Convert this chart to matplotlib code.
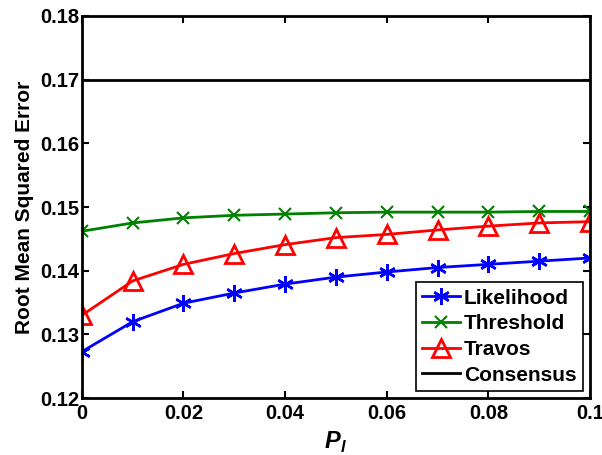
import matplotlib
matplotlib.use("Agg")
import matplotlib.pyplot as plt

plt.rcParams['font.family'] = ['Liberation Sans', 'DejaVu Sans']
plt.rcParams['font.weight'] = 'bold'
plt.rcParams['mathtext.fontset'] = 'custom'
plt.rcParams['mathtext.bfit'] = 'Liberation Sans:italic:bold'

# valores
p_l = [0.0, 0.01, 0.02, 0.03, 0.04, 0.05, 0.06, 0.07, 0.08, 0.09, 0.1]
likelihood = [0.1273, 0.1320, 0.1349, 0.1365, 0.1379, 0.1390, 0.1398, 0.1405, 0.1410, 0.1415, 0.1420]
threshold = [0.1462, 0.1475, 0.1483, 0.1487, 0.1489, 0.1491, 0.1492, 0.1492, 0.1492, 0.1493, 0.1493]
travos = [0.1330, 0.1384, 0.1410, 0.1427, 0.1441, 0.1452, 0.1457, 0.1464, 0.1470, 0.1475, 0.1477]
consensus = 0.17

x_ticks = [0, 0.02, 0.04, 0.06, 0.08, 0.1]
x_tick_labels = ['0', '0.02', '0.04', '0.06', '0.08', '0.1']
y_ticks = [0.12, 0.13, 0.14, 0.15, 0.16, 0.17, 0.18]

fig = plt.figure(figsize=(6.02, 4.55), dpi=100)
ax = fig.add_axes([0.136, 0.125, 0.844, 0.840])

asterisco = (6, 2, 0)
ax.plot(p_l, likelihood, color='blue', marker=asterisco, markersize=12, mew=1.8, lw=2, label='Likelihood')
ax.plot(p_l, threshold, color='#008000', marker='x', markersize=9, mew=1.5, lw=2, label='Threshold')
ax.plot(p_l, travos, color='red', marker='^', markersize=13, mfc='none', mew=2, lw=2, label='Travos')
ax.axhline(consensus, color='black', lw=2, label='Consensus')

ax.set_xlim(0, 0.1)
ax.set_ylim(0.12, 0.18)
ax.set_xticks(x_ticks)
ax.set_xticklabels(x_tick_labels)
ax.set_yticks(y_ticks)
ax.set_yticklabels(['%.2f' % v for v in y_ticks])
ax.tick_params(direction='in', top=True, right=True, labelsize=14.5, width=1.5, length=5)
ax.tick_params(axis='x', pad=4)
ax.tick_params(axis='y', pad=2)
for s in ax.spines.values():
    s.set_linewidth(2)

ax.set_xlabel(r'$\mathbfit{P}_{\mathbfit{l}}$', fontsize=17, labelpad=5)
ax.set_ylabel('Root Mean Squared Error', fontsize=15, fontweight='bold', labelpad=4)

leg = ax.legend(loc='lower right', fontsize=15, fancybox=False, edgecolor='black',
                framealpha=1, borderaxespad=0.35, handlelength=1.8, handletextpad=0.2,
                labelspacing=0.32, borderpad=0.3)
leg.get_frame().set_linewidth(1.2)

fig.savefig('out.png', dpi=100)
